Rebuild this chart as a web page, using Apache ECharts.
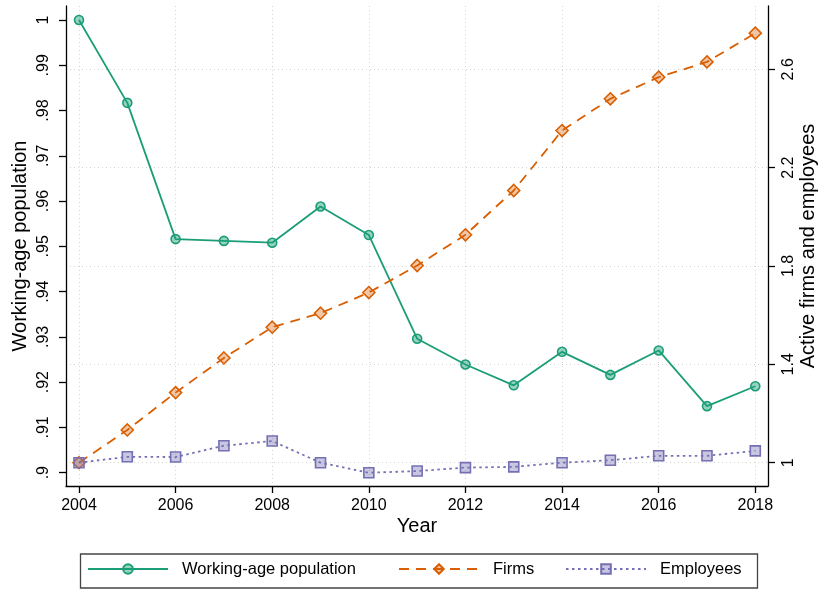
<!DOCTYPE html>
<html><head><meta charset="utf-8">
<script src="https://cdn.jsdelivr.net/npm/echarts@6/dist/echarts.min.js"></script>
<style>html,body{margin:0;padding:0;background:#fff}#c{width:820px;height:590px}</style>
</head><body><div id="c"></div>
<script>
const years = [2004,2005,2006,2007,2008,2009,2010,2011,2012,2013,2014,2015,2016,2017,2018];
const workingAge = [1.0, 0.9817, 0.9516, 0.9512, 0.9508, 0.9588, 0.9525, 0.9296, 0.9239, 0.9193, 0.9267, 0.9216, 0.9270, 0.9147, 0.9191];
const firms = [1.0, 1.133, 1.285, 1.426, 1.551, 1.608, 1.692, 1.802, 1.927, 2.107, 2.351, 2.480, 2.568, 2.630, 2.747];
const employees = [1.0, 1.024, 1.023, 1.069, 1.088, 1.0, 0.959, 0.966, 0.980, 0.983, 1.0, 1.010, 1.028, 1.028, 1.048];
const xTicks = [2004,2006,2008,2010,2012,2014,2016,2018];
const leftTicks = [0.9,0.91,0.92,0.93,0.94,0.95,0.96,0.97,0.98,0.99,1];
const rightTicks = [1,1.4,1.8,2.2,2.6];

const FONT = '"Liberation Sans", Arial, sans-serif';
const G = '#1b9e77', O = '#d95f02', P = '#7570b3';
const pair = arr => years.map((y, i) => [y, arr[i]]);
const leftFmt = v => { const s = String(+(+v).toFixed(2)); return s.replace(/^0\./, '.'); };
const axisLineStyle = { color: '#000', width: 1.3 };
const gridLine = { show: true, lineStyle: { color: '#d4d4d4', width: 1, type: [1, 3] } };
const hidden = { axisLine: { show: false }, axisTick: { show: false }, axisLabel: { show: false } };
const gridBase = { containLabel: false, outerBoundsMode: 'none' };

const chart = echarts.init(document.getElementById('c'), null, { renderer: 'canvas' });
const legendCommon = {
  orient: 'horizontal', top: 558, padding: 0, itemWidth: 80, itemHeight: 12, selectedMode: false,
  textStyle: { fontFamily: FONT, fontSize: 16.5, color: '#000', padding: [0, 0, 0, 9], lineHeight: 22 }
};
chart.setOption({
  animation: false,
  backgroundColor: '#fff',
  textStyle: { fontFamily: FONT },
  grid: [
    Object.assign({ left: 66, right: 52, top: 6, bottom: 104 }, gridBase),
    Object.assign({ left: 79, right: 64.7, top: 6, bottom: 104 }, gridBase),
    Object.assign({ left: 66, right: 52, top: 69.3, bottom: 127.3 }, gridBase)
  ],
  legend: [
    Object.assign({ data: ['Working-age population'], left: 87 }, legendCommon),
    Object.assign({ data: ['Firms'], left: 398 }, legendCommon),
    Object.assign({ data: ['Employees'], left: 565 }, legendCommon)
  ],
  graphic: [{
    type: 'rect', left: 78, top: 551.5, shape: { width: 677, height: 34 },
    style: { fill: 'none', stroke: '#444', lineWidth: 1.3 }, silent: true
  }],
  xAxis: [{
    gridIndex: 0, type: 'value', min: 2003.731, max: 2018.263,
    name: 'Year', nameLocation: 'middle', nameGap: 30, nameMoveOverlap: false,
    nameTextStyle: { fontFamily: FONT, fontSize: 20, color: '#000' },
    axisLine: { show: true, onZero: false, lineStyle: axisLineStyle },
    axisTick: { show: true, length: 7, customValues: xTicks, lineStyle: axisLineStyle },
    axisLabel: { customValues: xTicks, formatter: v => String(v), margin: 12, fontSize: 16, lineHeight: 16, color: '#000', fontFamily: FONT },
    splitLine: { show: false }
  }, Object.assign({
    gridIndex: 1, type: 'value', min: xTicks[0], max: xTicks[xTicks.length - 1], interval: 2,
    splitLine: gridLine
  }, hidden), Object.assign({
    gridIndex: 2, type: 'value', min: 0, max: 1, splitLine: { show: false }
  }, hidden)],
  yAxis: [{
    gridIndex: 0, type: 'value', position: 'left', min: 0.89706, max: 1.00309,
    name: 'Working-age population', nameLocation: 'middle', nameGap: 36, nameRotate: 90, nameMoveOverlap: false,
    nameTextStyle: { fontFamily: FONT, fontSize: 20, color: '#000', lineHeight: 20 },
    axisLine: { show: true, lineStyle: axisLineStyle },
    axisTick: { show: true, length: 7, customValues: leftTicks, lineStyle: axisLineStyle },
    axisLabel: { customValues: leftTicks, formatter: leftFmt, rotate: 90, margin: 14, fontSize: 16, lineHeight: 16, color: '#000', fontFamily: FONT },
    splitLine: { show: false }
  }, {
    gridIndex: 0, type: 'value', position: 'right', min: 0.9052, max: 2.8574,
    name: 'Active firms and employees', nameLocation: 'middle', nameGap: 30, nameRotate: 90, nameMoveOverlap: false,
    nameTextStyle: { fontFamily: FONT, fontSize: 20, color: '#000', lineHeight: 20 },
    axisLine: { show: true, lineStyle: axisLineStyle },
    axisTick: { show: true, length: 7, customValues: rightTicks, lineStyle: axisLineStyle },
    axisLabel: { customValues: rightTicks, formatter: v => String(v), rotate: 90, margin: 13, fontSize: 16, lineHeight: 16, color: '#000', fontFamily: FONT },
    splitLine: { show: false }
  }, Object.assign({
    gridIndex: 1, type: 'value', min: 0, max: 1, splitLine: { show: false }
  }, hidden), Object.assign({
    gridIndex: 2, type: 'value', min: rightTicks[0], max: rightTicks[rightTicks.length - 1], interval: 0.4,
    splitLine: gridLine
  }, hidden)],
  series: [{
    type: 'line', name: 'Working-age population', xAxisIndex: 0, yAxisIndex: 0, data: pair(workingAge),
    symbol: 'circle', symbolSize: 9, showSymbol: true,
    lineStyle: { color: G, width: 1.8, type: 'solid' },
    itemStyle: { color: 'rgba(27,158,119,0.45)', borderColor: G, borderWidth: 1.6 }
  }, {
    type: 'line', name: 'Firms', xAxisIndex: 0, yAxisIndex: 1, data: pair(firms),
    symbol: 'diamond', symbolSize: 12, showSymbol: true,
    lineStyle: { color: O, width: 1.8, type: [10, 7] },
    itemStyle: { color: 'rgba(217,95,2,0.35)', borderColor: O, borderWidth: 1.6 }
  }, {
    type: 'line', name: 'Employees', xAxisIndex: 0, yAxisIndex: 1, data: pair(employees),
    symbol: 'rect', symbolSize: 10, showSymbol: true,
    lineStyle: { color: P, width: 1.8, type: [2.5, 3.5] },
    itemStyle: { color: 'rgba(117,112,179,0.4)', borderColor: P, borderWidth: 1.6 }
  }]
});
</script>
</body></html>
